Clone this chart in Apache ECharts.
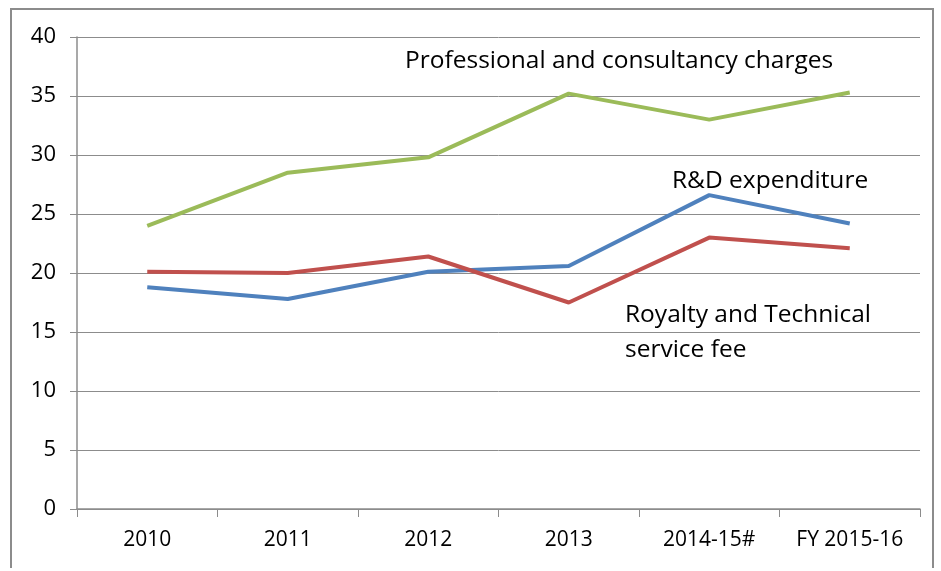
<!DOCTYPE html>
<html>
<head>
<meta charset="utf-8">
<script src="https://cdn.jsdelivr.net/npm/echarts@6/dist/echarts.min.js"></script>
<style>
  html, body { margin: 0; padding: 0; background: #fff; }
  #main { width: 941px; height: 571px; }
  #frame { position: absolute; left: 10px; top: 8px; width: 924px; height: 560px; border: 2px solid #8c8c8c; border-bottom: none; box-sizing: border-box; pointer-events: none; }
</style>
</head>
<body>
<div id="main"></div>
<div id="frame"></div>
<script>
  // categories and series
  var years = ['2010', '2011', '2012', '2013', '2014-15#', 'FY 2015-16'];
  var professional = [24.0, 28.5, 29.8, 35.2, 33.0, 35.3];
  var rnd = [18.8, 17.8, 20.1, 20.6, 26.6, 24.2];
  var royalty = [20.1, 20.0, 21.4, 17.5, 23.0, 22.1];

  var myChart = echarts.init(document.getElementById('main'));
  var font = 'Open Sans';

  var option = {
    animation: false,
    grid: { left: 77, right: 21, top: 37, bottom: 62 },
    xAxis: {
      type: 'category',
      data: years,
      boundaryGap: true,
      axisLine: { lineStyle: { color: '#8c8c8c', width: 1.5 } },
      axisTick: { show: true, interval: 0, length: 8, lineStyle: { color: '#8c8c8c' } },
      axisLabel: { interval: 0, hideOverlap: false, color: '#000', fontSize: 21, fontFamily: font, margin: 21 }
    },
    yAxis: {
      type: 'value',
      min: 0, max: 40, interval: 5,
      axisLine: { show: true, lineStyle: { color: '#8c8c8c', width: 1.5 } },
      axisTick: { show: true, length: 7, lineStyle: { color: '#8c8c8c' } },
      splitLine: { lineStyle: { color: '#8c8c8c', width: 1 } },
      axisLabel: { color: '#000', fontSize: 22, fontFamily: font, margin: 21 }
    },
    series: [
      {
        name: 'Professional and consultancy charges', type: 'line', data: professional,
        symbol: 'none', lineStyle: { color: '#9BBB59', width: 4 }
      },
      {
        name: 'R&D expenditure', type: 'line', data: rnd,
        symbol: 'none', lineStyle: { color: '#4F81BD', width: 4 }
      },
      {
        name: 'Royalty and Technical service fee', type: 'line', data: royalty,
        symbol: 'none', lineStyle: { color: '#C0504D', width: 4 }
      }
    ],
    graphic: [
      { type: 'text', left: 405, top: 49, style: { text: 'Professional and consultancy charges', fill: '#000', font: '24.5px "Open Sans"' } },
      { type: 'text', left: 672, top: 169, style: { text: 'R&D expenditure', fill: '#000', font: '24.5px "Open Sans"' } },
      { type: 'text', left: 625, top: 298, style: { text: 'Royalty and Technical\nservice fee', fill: '#000', font: '24.5px "Open Sans"', lineHeight: 35 } }
    ]
  };

  myChart.setOption(option);
</script>
</body>
</html>
